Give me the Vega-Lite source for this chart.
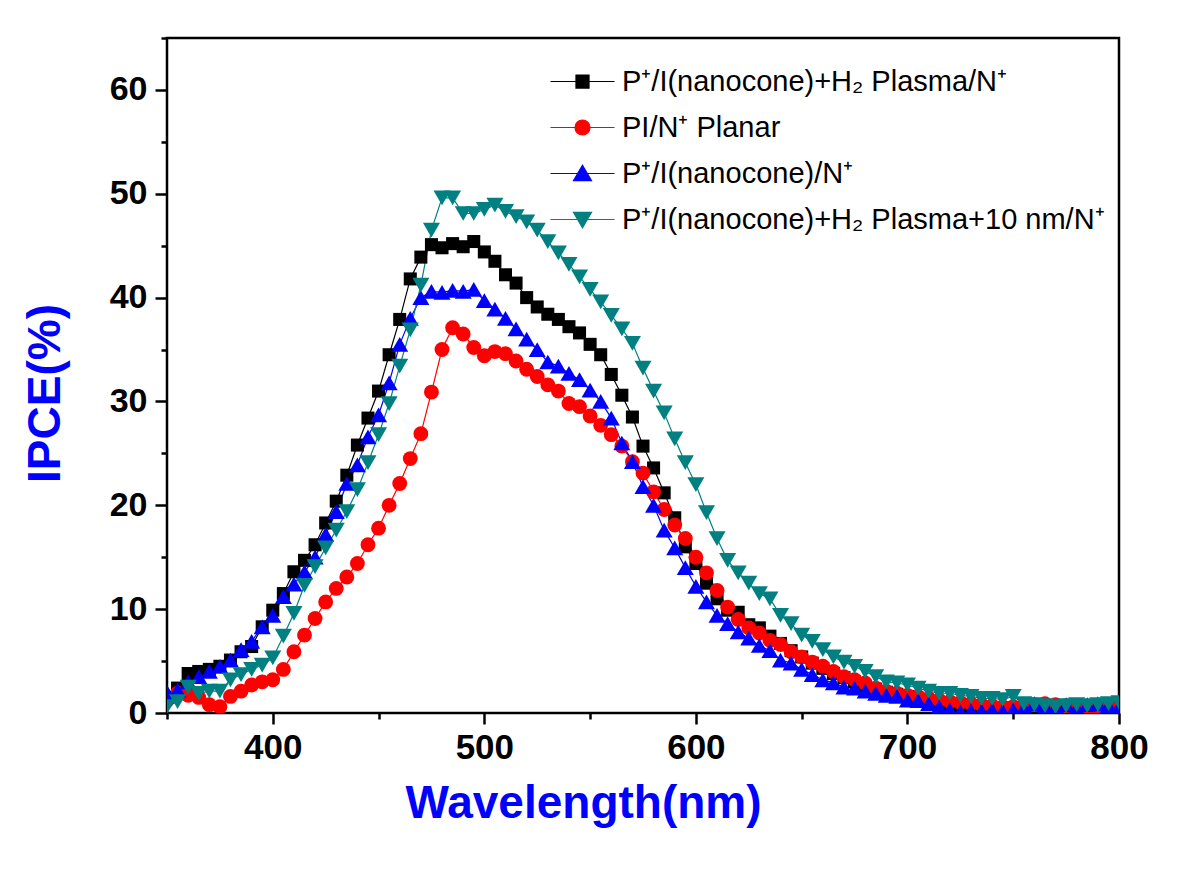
{
"$schema":"https://vega.github.io/schema/vega-lite/v6.json",
"width":952,"height":675,
"autosize":{"type":"none"},
"padding":{"left":167,"top":38,"right":81,"bottom":164},
"background":"white",
"config":{"view":{"stroke":"black","strokeWidth":2.5},"font":"Liberation Sans",
 "legend":{"orient":"none","legendX":401,"legendY":29,"title":null,"padding":0,
   "symbolSize":225,"labelOffset":25,"labelFontSize":29,"labelFont":"Liberation Sans","labelColor":"black",
   "labelLimit":0,"rowPadding":16,"symbolStrokeWidth":1.2,"symbolOpacity":1}},
"data":{"values":[
{"w":350,"A":1.5,"B":1.2,"C":2.0,"D":0.6},
{"w":355,"A":2.4,"B":1.9,"C":2.2,"D":1.1},
{"w":360,"A":3.8,"B":1.7,"C":3.0,"D":2.5},
{"w":365,"A":4.0,"B":1.5,"C":3.5,"D":1.9},
{"w":370,"A":4.2,"B":0.8,"C":4.0,"D":2.1},
{"w":375,"A":4.5,"B":0.6,"C":4.5,"D":2.1},
{"w":380,"A":5.1,"B":1.6,"C":5.1,"D":3.2},
{"w":385,"A":5.9,"B":2.1,"C":6.1,"D":3.7},
{"w":390,"A":6.4,"B":2.7,"C":6.9,"D":4.2},
{"w":395,"A":8.3,"B":3.0,"C":8.3,"D":4.6},
{"w":400,"A":9.9,"B":3.2,"C":9.4,"D":5.3},
{"w":405,"A":11.5,"B":4.2,"C":11.2,"D":7.4},
{"w":410,"A":13.6,"B":5.9,"C":12.4,"D":9.6},
{"w":415,"A":14.7,"B":7.5,"C":13.6,"D":12.3},
{"w":420,"A":16.2,"B":9.1,"C":15.0,"D":14.1},
{"w":425,"A":18.3,"B":10.7,"C":17.2,"D":15.9},
{"w":430,"A":20.4,"B":12.0,"C":19.4,"D":17.6},
{"w":435,"A":22.9,"B":13.1,"C":22.1,"D":19.4},
{"w":440,"A":25.8,"B":14.4,"C":23.9,"D":21.5},
{"w":445,"A":28.4,"B":16.2,"C":26.6,"D":24.1},
{"w":450,"A":31.0,"B":17.8,"C":28.7,"D":26.8},
{"w":455,"A":34.5,"B":20.0,"C":31.8,"D":29.8},
{"w":460,"A":37.9,"B":22.1,"C":35.5,"D":33.4},
{"w":465,"A":41.8,"B":24.5,"C":38.0,"D":36.9},
{"w":470,"A":43.9,"B":26.9,"C":40.0,"D":41.2},
{"w":475,"A":45.1,"B":30.9,"C":40.6,"D":46.5},
{"w":480,"A":44.8,"B":35.0,"C":40.5,"D":49.6},
{"w":485,"A":45.2,"B":37.1,"C":40.7,"D":49.6},
{"w":490,"A":44.9,"B":36.5,"C":40.6,"D":48.1},
{"w":495,"A":45.4,"B":35.2,"C":40.8,"D":48.1},
{"w":500,"A":44.4,"B":34.4,"C":39.7,"D":48.5},
{"w":505,"A":43.5,"B":34.8,"C":38.9,"D":48.9},
{"w":510,"A":42.2,"B":34.6,"C":38.0,"D":48.3},
{"w":515,"A":41.4,"B":33.9,"C":37.0,"D":47.8},
{"w":520,"A":40.0,"B":33.1,"C":36.0,"D":47.3},
{"w":525,"A":39.1,"B":32.4,"C":35.0,"D":46.5},
{"w":530,"A":38.4,"B":31.6,"C":33.8,"D":45.4},
{"w":535,"A":37.9,"B":31.0,"C":33.4,"D":44.3},
{"w":540,"A":37.2,"B":29.8,"C":32.7,"D":43.2},
{"w":545,"A":36.6,"B":29.5,"C":32.1,"D":42.0},
{"w":550,"A":35.5,"B":28.6,"C":31.1,"D":40.8},
{"w":555,"A":34.5,"B":27.7,"C":30.0,"D":39.6},
{"w":560,"A":32.6,"B":26.8,"C":28.4,"D":38.3},
{"w":565,"A":30.6,"B":25.7,"C":26.0,"D":37.0},
{"w":570,"A":28.5,"B":24.2,"C":24.2,"D":35.6},
{"w":575,"A":25.7,"B":23.1,"C":21.8,"D":33.2},
{"w":580,"A":23.6,"B":21.3,"C":20.0,"D":31.0},
{"w":585,"A":21.2,"B":19.6,"C":17.6,"D":28.9},
{"w":590,"A":18.8,"B":18.1,"C":15.9,"D":26.4},
{"w":595,"A":16.0,"B":16.8,"C":14.0,"D":24.1},
{"w":600,"A":14.4,"B":15.0,"C":12.2,"D":22.0},
{"w":605,"A":12.5,"B":13.5,"C":10.7,"D":19.3},
{"w":610,"A":11.0,"B":11.8,"C":9.4,"D":16.8},
{"w":615,"A":9.9,"B":10.2,"C":8.6,"D":14.7},
{"w":620,"A":9.7,"B":9.0,"C":7.8,"D":13.5},
{"w":625,"A":8.5,"B":8.2,"C":7.2,"D":12.5},
{"w":630,"A":8.2,"B":7.7,"C":6.5,"D":11.5},
{"w":635,"A":7.4,"B":7.0,"C":6.0,"D":11.0},
{"w":640,"A":6.7,"B":6.6,"C":5.1,"D":9.4},
{"w":645,"A":6.0,"B":5.9,"C":4.8,"D":8.6},
{"w":650,"A":5.4,"B":5.4,"C":4.2,"D":7.5},
{"w":655,"A":4.8,"B":4.9,"C":3.7,"D":6.9},
{"w":660,"A":4.3,"B":4.5,"C":3.2,"D":6.1},
{"w":665,"A":3.8,"B":4.0,"C":2.9,"D":5.4},
{"w":670,"A":3.4,"B":3.5,"C":2.5,"D":4.9},
{"w":675,"A":3.0,"B":3.2,"C":2.4,"D":4.5},
{"w":680,"A":2.6,"B":2.9,"C":2.1,"D":4.0},
{"w":685,"A":2.3,"B":2.4,"C":1.9,"D":3.5},
{"w":690,"A":2.0,"B":2.1,"C":1.7,"D":3.0},
{"w":695,"A":1.8,"B":1.9,"C":1.6,"D":2.9},
{"w":700,"A":1.6,"B":1.7,"C":1.25,"D":2.7},
{"w":705,"A":1.3,"B":1.6,"C":1.2,"D":2.4},
{"w":710,"A":1.1,"B":1.4,"C":0.9,"D":2.1},
{"w":715,"A":0.9,"B":1.25,"C":0.6,"D":1.9},
{"w":720,"A":0.6,"B":1.1,"C":0.3,"D":1.9},
{"w":725,"A":0.4,"B":1.0,"C":0.1,"D":1.7},
{"w":730,"A":0.3,"B":0.9,"C":0.2,"D":1.6},
{"w":735,"A":0.3,"B":0.8,"C":0.2,"D":1.4},
{"w":740,"A":0.3,"B":0.7,"C":0.3,"D":1.4},
{"w":745,"A":0.4,"B":0.6,"C":0.2,"D":1.3},
{"w":750,"A":0.5,"B":0.6,"C":0.3,"D":1.6},
{"w":755,"A":0.5,"B":0.6,"C":0.5,"D":0.9},
{"w":760,"A":0.6,"B":0.8,"C":0.9,"D":0.8},
{"w":765,"A":0.6,"B":0.9,"C":0.7,"D":0.7},
{"w":770,"A":0.6,"B":0.8,"C":0.6,"D":0.6},
{"w":775,"A":0.6,"B":0.7,"C":0.8,"D":0.7},
{"w":780,"A":0.5,"B":0.5,"C":0.5,"D":0.8},
{"w":785,"A":0.5,"B":0.5,"C":0.8,"D":0.7},
{"w":790,"A":0.5,"B":0.4,"C":0.9,"D":0.8},
{"w":795,"A":0.6,"B":0.5,"C":0.7,"D":0.9},
{"w":800,"A":0.8,"B":0.6,"C":0.6,"D":1.0}
]},
"transform":[{"fold":["A","B","C","D"],"as":["s","v"]}],
"encoding":{
 "x":{"field":"w","type":"quantitative","title":"Wavelength(nm)",
  "scale":{"domain":[350,800],"nice":false,"zero":false},
  "axis":{"values":[350,400,450,500,550,600,650,700,750,800],
   "labelExpr":"datum.value % 100 === 0 ? datum.label : ''",
   "tickSize":{"condition":{"test":"datum.value % 100 === 0","value":11},"value":6},
   "tickWidth":2.5,"tickColor":"black","domain":false,"grid":false,
   "labelFont":"Liberation Sans","labelFontWeight":"bold","labelFontSize":35,"labelColor":"black",
   "labelPadding":6,"labelFlush":false,"labelOverlap":false,
   "titleFont":"Liberation Sans","titleFontWeight":"bold","titleFontSize":46,"titleColor":"#0000ff",
   "titleX":416,"titleY":104,"titleBaseline":"alphabetic","titleAlign":"center"}},
 "y":{"field":"v","type":"quantitative","title":"IPCE(%)",
  "scale":{"domain":[0,65],"nice":false},
  "axis":{"values":[0,5,10,15,20,25,30,35,40,45,50,55,60,65],
   "labelExpr":"(datum.value % 10 === 0 && datum.value <= 60) ? datum.label : ''",
   "tickSize":{"condition":{"test":"datum.value % 10 === 0","value":12},"value":6},
   "tickWidth":2.5,"tickColor":"black","domain":false,"grid":false,
   "labelFont":"Liberation Sans","labelFontWeight":"bold","labelFontSize":34,"labelColor":"black",
   "labelPadding":8,"labelOverlap":false,
   "titleFont":"Liberation Sans","titleFontWeight":"bold","titleFontSize":46,"titleColor":"#0000ff",
   "titleX":-122,"titleY":355,"titleBaseline":"middle","titleAlign":"center","titleAngle":-90}},
 "color":{"field":"s","type":"nominal",
  "scale":{"domain":["A","B","C","D"],"range":["#000000","#ff0000","#0000ff","#008080"]},
  "legend":{"labelExpr":"datum.value === 'A' ? 'P⁺/I(nanocone)+H₂ Plasma/N⁺' : datum.value === 'B' ? 'PI/N⁺ Planar' : datum.value === 'C' ? 'P⁺/I(nanocone)/N⁺' : 'P⁺/I(nanocone)+H₂ Plasma+10 nm/N⁺'"}}
},
"layer":[
 {"mark":{"type":"line","strokeWidth":1.2,"clip":true}},
 {"transform":[{"filter":"datum.s === 'A'"}],"mark":{"type":"point","shape":"square","size":170,"filled":true,"opacity":1,"clip":true}},
 {"transform":[{"filter":"datum.s === 'B'"}],"mark":{"type":"point","shape":"circle","size":220,"filled":true,"opacity":1,"clip":true}},
 {"transform":[{"filter":"datum.s === 'C'"}],"mark":{"type":"point","shape":"triangle-up","size":290,"filled":true,"opacity":1,"clip":true}},
 {"transform":[{"filter":"datum.s === 'D'"}],"mark":{"type":"point","shape":"triangle-down","size":290,"filled":true,"opacity":1,"clip":true}},
 {"transform":[{"filter":"datum.w === 800"}],
  "mark":{"type":"point","filled":true,"opacity":0,"clip":true},
  "encoding":{
   "shape":{"field":"s","type":"nominal","scale":{"domain":["A","B","C","D"],"range":[
     "M-4.27,0H4.27M-0.87,-0.87H0.87V0.87H-0.87Z",
     "M-4.27,0H4.27M-1,0A1,1,0,1,1,1,0A1,1,0,1,1,-1,0Z",
     "M-4.27,0H4.27M0,-1.1L1.2,0.95L-1.2,0.95Z",
     "M-4.27,0H4.27M0,1.1L1.2,-0.95L-1.2,-0.95Z"]},
     "legend":{"labelExpr":"datum.value === 'A' ? 'P⁺/I(nanocone)+H₂ Plasma/N⁺' : datum.value === 'B' ? 'PI/N⁺ Planar' : datum.value === 'C' ? 'P⁺/I(nanocone)/N⁺' : 'P⁺/I(nanocone)+H₂ Plasma+10 nm/N⁺'"}},
   "stroke":{"field":"s","type":"nominal","scale":{"domain":["A","B","C","D"],"range":["#000000","#ff0000","#0000ff","#008080"]},
     "legend":{"labelExpr":"datum.value === 'A' ? 'P⁺/I(nanocone)+H₂ Plasma/N⁺' : datum.value === 'B' ? 'PI/N⁺ Planar' : datum.value === 'C' ? 'P⁺/I(nanocone)/N⁺' : 'P⁺/I(nanocone)+H₂ Plasma+10 nm/N⁺'"}}}}
]
}
